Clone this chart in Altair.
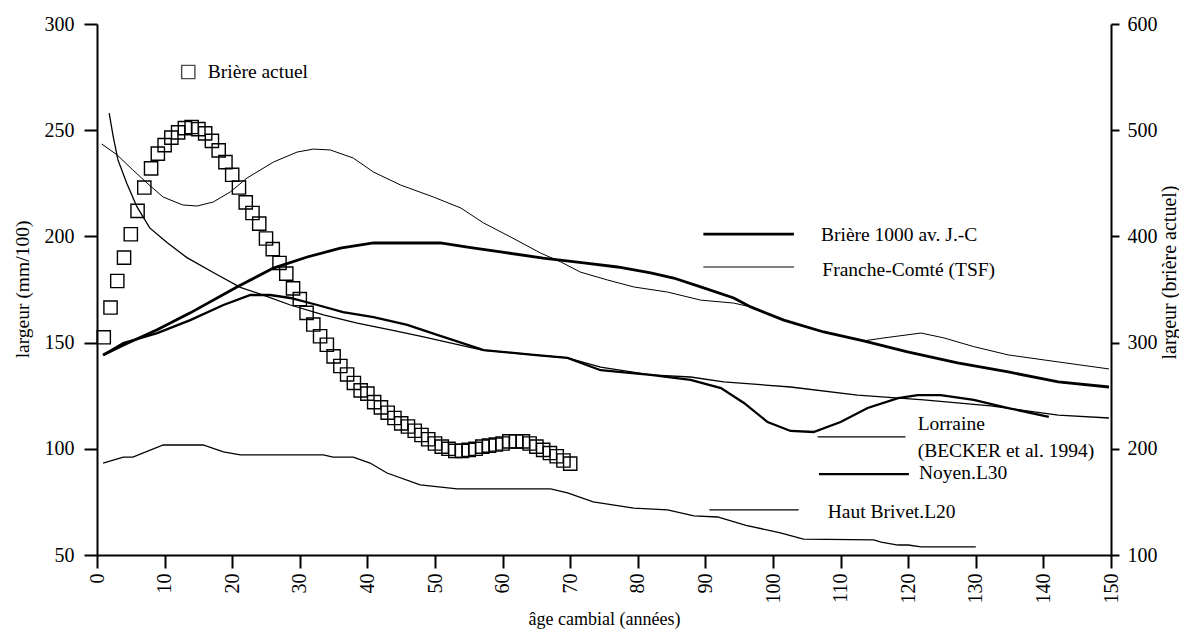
import altair as alt
import pandas as pd

# ---- data ----
actuel_years = list(range(1, 71))
actuel_vals = [305, 333, 358, 380, 402, 424, 446, 464, 478, 486, 493, 498, 502, 503, 501,
               497, 490, 481, 470, 458, 446, 432, 422, 412, 398, 388, 375, 365, 351, 341,
               328, 317, 306, 298, 287, 278, 270, 262, 255, 252, 244, 239, 234, 229, 224,
               221, 217, 213, 209, 205, 202, 200, 198, 198, 199, 200, 202, 203, 204, 205,
               207, 207, 207, 205, 202, 199, 196, 193, 189, 186]

briere_years = [0.9, 4, 8.9, 13.8, 20.7, 26.1, 31.1, 36, 40.9, 47.8, 50.8, 54.8, 59.7, 66, 72,
                77, 81.9, 85.3, 89.3, 94.2, 96.7, 101.6, 107.5, 113.4, 119.9, 127.3, 134.8,
                142.2, 149.7]
briere_vals = [144.2, 149, 156, 164, 176.2, 185.1, 190.3, 194.5, 196.9, 196.9, 196.9, 195,
               192.7, 189.8, 187.5, 185.6, 182.8, 180.4, 176.2, 171, 166.8, 160.6, 155, 150.8,
               145.6, 140.4, 136.2, 131.5, 129.1]

franche_years = [0.7, 3, 5.3, 7.4, 9.8, 12.7, 14.8, 17.2, 19.7, 22.2, 26.1, 29.6, 32, 34.5,
                 37.9, 40.9, 44.9, 49.8, 53.8, 57.2, 61.2, 65.6, 68.6, 71.5, 75.5, 79.4, 84.4,
                 89.3, 94.2, 96.7, 101.6, 107.5, 113.4, 116.4, 121.9, 125.3, 129.7, 134.8,
                 142.2, 149.7]
franche_vals = [243.5, 238.3, 231.3, 225.1, 218.5, 214.8, 214.3, 216.2, 220.9, 227.5, 235,
                239.7, 241.1, 240.7, 236.9, 230.3, 224.2, 218.5, 213.4, 206.3, 199.7, 192.2,
                188, 183.2, 179.5, 176.2, 173.8, 170, 168.6, 166.8, 160.6, 155, 150.8, 152.2,
                154.5, 152.2, 148.1, 144.2, 140.9, 137.6]

lorraine_years = [1.8, 2.4, 3.1, 4.4, 5.9, 7.8, 10.4, 13.3, 17.2, 21.2, 24.6, 28.6, 33.5,
                  38.5, 43.4, 47.8, 57, 64.6, 69.6, 74.5, 81.9, 87.8, 92.7, 102.6, 112.5,
                  122.3, 132.2, 142.2, 149.7]
lorraine_vals = [258, 247, 236, 225, 214, 204, 197, 190, 183, 176, 172.4, 167.7, 163, 159.2,
                 156, 153.1, 146.5, 144.2, 142.8, 138.5, 134.8, 133.8, 131.5, 129.1, 125.3,
                 123, 120.2, 115.9, 114.5]

noyen_years = [0.9, 3.9, 8.9, 13.8, 18.7, 22.7, 25.6, 28.6, 32.6, 36.4, 40.9, 45.9, 50, 57.2,
               64.6, 69.6, 74.5, 81.9, 87.8, 92.3, 95.7, 99.2, 102.6, 106, 110, 114, 118.5,
               121.4, 124.8, 129.7, 134.8, 140.8]
noyen_vals = [144.2, 149.8, 154.5, 160.6, 167.7, 172.4, 172.4, 171, 167.7, 164.4, 162, 158.3,
              154, 146.5, 144.2, 142.8, 137, 134.8, 132.4, 128.6, 121.6, 112.6, 108.4, 107.9,
              112.6, 119.2, 123.9, 125.3, 125.3, 123, 119.2, 115]

brivet_years = [0.9, 3.9, 5.3, 9.8, 15.7, 18.7, 21.2, 33.5, 34.9, 37.9, 40.4, 42.9, 47.8, 53.3,
                67.1, 69.6, 73.4, 79.4, 84.4, 88.3, 91.8, 96, 101.1, 104.5, 114.9, 116, 118.5,
                120, 121.9, 130]
brivet_vals = [93.3, 96.1, 96.1, 101.8, 101.8, 98.5, 97.1, 97.1, 96.1, 96.1, 93.3, 88.6, 83,
               81.1, 81.1, 79.2, 75, 72.1, 71.2, 68.4, 67.9, 64, 60.4, 57.5, 57.1, 56.1, 54.7,
               54.7, 53.8, 53.8]

# legend entries (data units of the left axis)
leg_labels = ["Brière 1000 av. J.-C", "Franche-Comté (TSF)", "Noyen.L30", "Haut Brivet.L20"]
leg_x0 = [89.7, 89.7, 106.8, 90.6]
leg_x1 = [103.1, 103.1, 120.1, 103.8]
leg_y = [201.1, 185.6, 88.1, 71.2]
leg_tx = [107.1, 107.3, 121.6, 108.1]
leg_ty = [200.5, 184.0, 88.4, 70.4]
leg_w = [2.8, 1.0, 2.3, 1.3]

lor_line_x0, lor_line_x1, lor_line_y = 106.6, 119.6, 105.6
lor_text = ["Lorraine", "(BECKER et al. 1994)"]
lor_tx = [121.4, 121.4]
lor_ty = [111.7, 99.0]

act_label = "Brière actuel"
act_sq_x, act_sq_y = 13.5, 277.4
act_tx, act_ty = 16.4, 277.2

FONT = "Liberation Serif"
W, H = 1014, 531

X = alt.X("x:Q", scale=alt.Scale(domain=[0, 150], nice=False, zero=False),
          axis=alt.Axis(values=list(range(0, 151, 10)), labelAngle=270,
                        title="âge cambial (années)", titleFontSize=18,
                        titleX=W / 2, titleY=64, titleBaseline="middle",
                        labelPadding=5, tickSize=13))
YL = alt.Y("y:Q", scale=alt.Scale(domain=[50, 300], nice=False, zero=False),
           axis=alt.Axis(values=list(range(50, 301, 50)), title="largeur (mm/100)",
                         titleX=-75, titleY=265, titleAngle=270, titleAlign="center",
                         titleBaseline="middle", titleFontSize=19.5,
                         labelPadding=10, tickSize=13, orient="left"))


def line(years, vals, w):
    df = pd.DataFrame({"x": years, "y": vals})
    return alt.Chart(df).mark_line(color="black", strokeWidth=w).encode(x=X, y=YL)


layers = [
    line(lorraine_years, lorraine_vals, 1.3),
    line(franche_years, franche_vals, 1.0),
    line(brivet_years, brivet_vals, 1.3),
    line(noyen_years, noyen_vals, 2.3),
    line(briere_years, briere_vals, 2.8),
]

leg_df = pd.DataFrame({"x": leg_x0, "x1": leg_x1, "y": leg_y, "w": leg_w})
layers.append(alt.Chart(leg_df).mark_rule(color="black").encode(
    x=X, x2="x1:Q", y=YL, strokeWidth=alt.StrokeWidth("w:Q", scale=None)))
lor_df = pd.DataFrame({"x": [lor_line_x0], "x1": [lor_line_x1], "y": [lor_line_y]})
layers.append(alt.Chart(lor_df).mark_rule(color="black", strokeWidth=1.3).encode(
    x=X, x2="x1:Q", y=YL))

txt_df = pd.DataFrame({"x": leg_tx + lor_tx + [act_tx],
                       "y": leg_ty + lor_ty + [act_ty],
                       "t": leg_labels + lor_text + [act_label]})
layers.append(alt.Chart(txt_df).mark_text(align="left", baseline="middle", font=FONT,
                                          fontSize=19.5, color="black").encode(
    x=X, y=YL, text="t:N"))

sq_df = pd.DataFrame({"x": [act_sq_x], "y": [act_sq_y]})
layers.append(alt.Chart(sq_df).mark_point(shape="square", size=175, filled=False,
                                          color="black", strokeWidth=1.4).encode(x=X, y=YL))

left = alt.layer(*layers)

act_df = pd.DataFrame({"x": actuel_years, "y": actuel_vals})
right = alt.Chart(act_df).mark_point(shape="square", size=175, filled=False, color="black",
                                     strokeWidth=1.4, opacity=1).encode(
    x=X,
    y=alt.Y("y:Q", scale=alt.Scale(domain=[100, 600], nice=False, zero=False),
            axis=alt.Axis(values=list(range(100, 601, 100)), title="largeur (brière actuel)",
                          orient="right", titleAngle=270, titleX=58, titleY=248,
                          titleAlign="center", titleBaseline="middle", titleFontSize=20,
                          labelPadding=8, tickSize=8)))

chart = alt.layer(left, right).resolve_scale(y="independent").properties(
    width=W, height=H,
    autosize=alt.AutoSizeParams(type="none"),
    padding={"left": 89, "top": 16, "right": 68, "bottom": 77},
).configure_view(stroke=None).configure_axis(
    grid=False, domainColor="black", domainWidth=2, tickColor="black", tickWidth=2,
    labelFont=FONT, labelFontSize=20, labelColor="black",
    titleFont=FONT, titleFontWeight="normal", titleColor="black",
)

chart.save("out.html", embed_options={"renderer": "svg", "actions": False})
